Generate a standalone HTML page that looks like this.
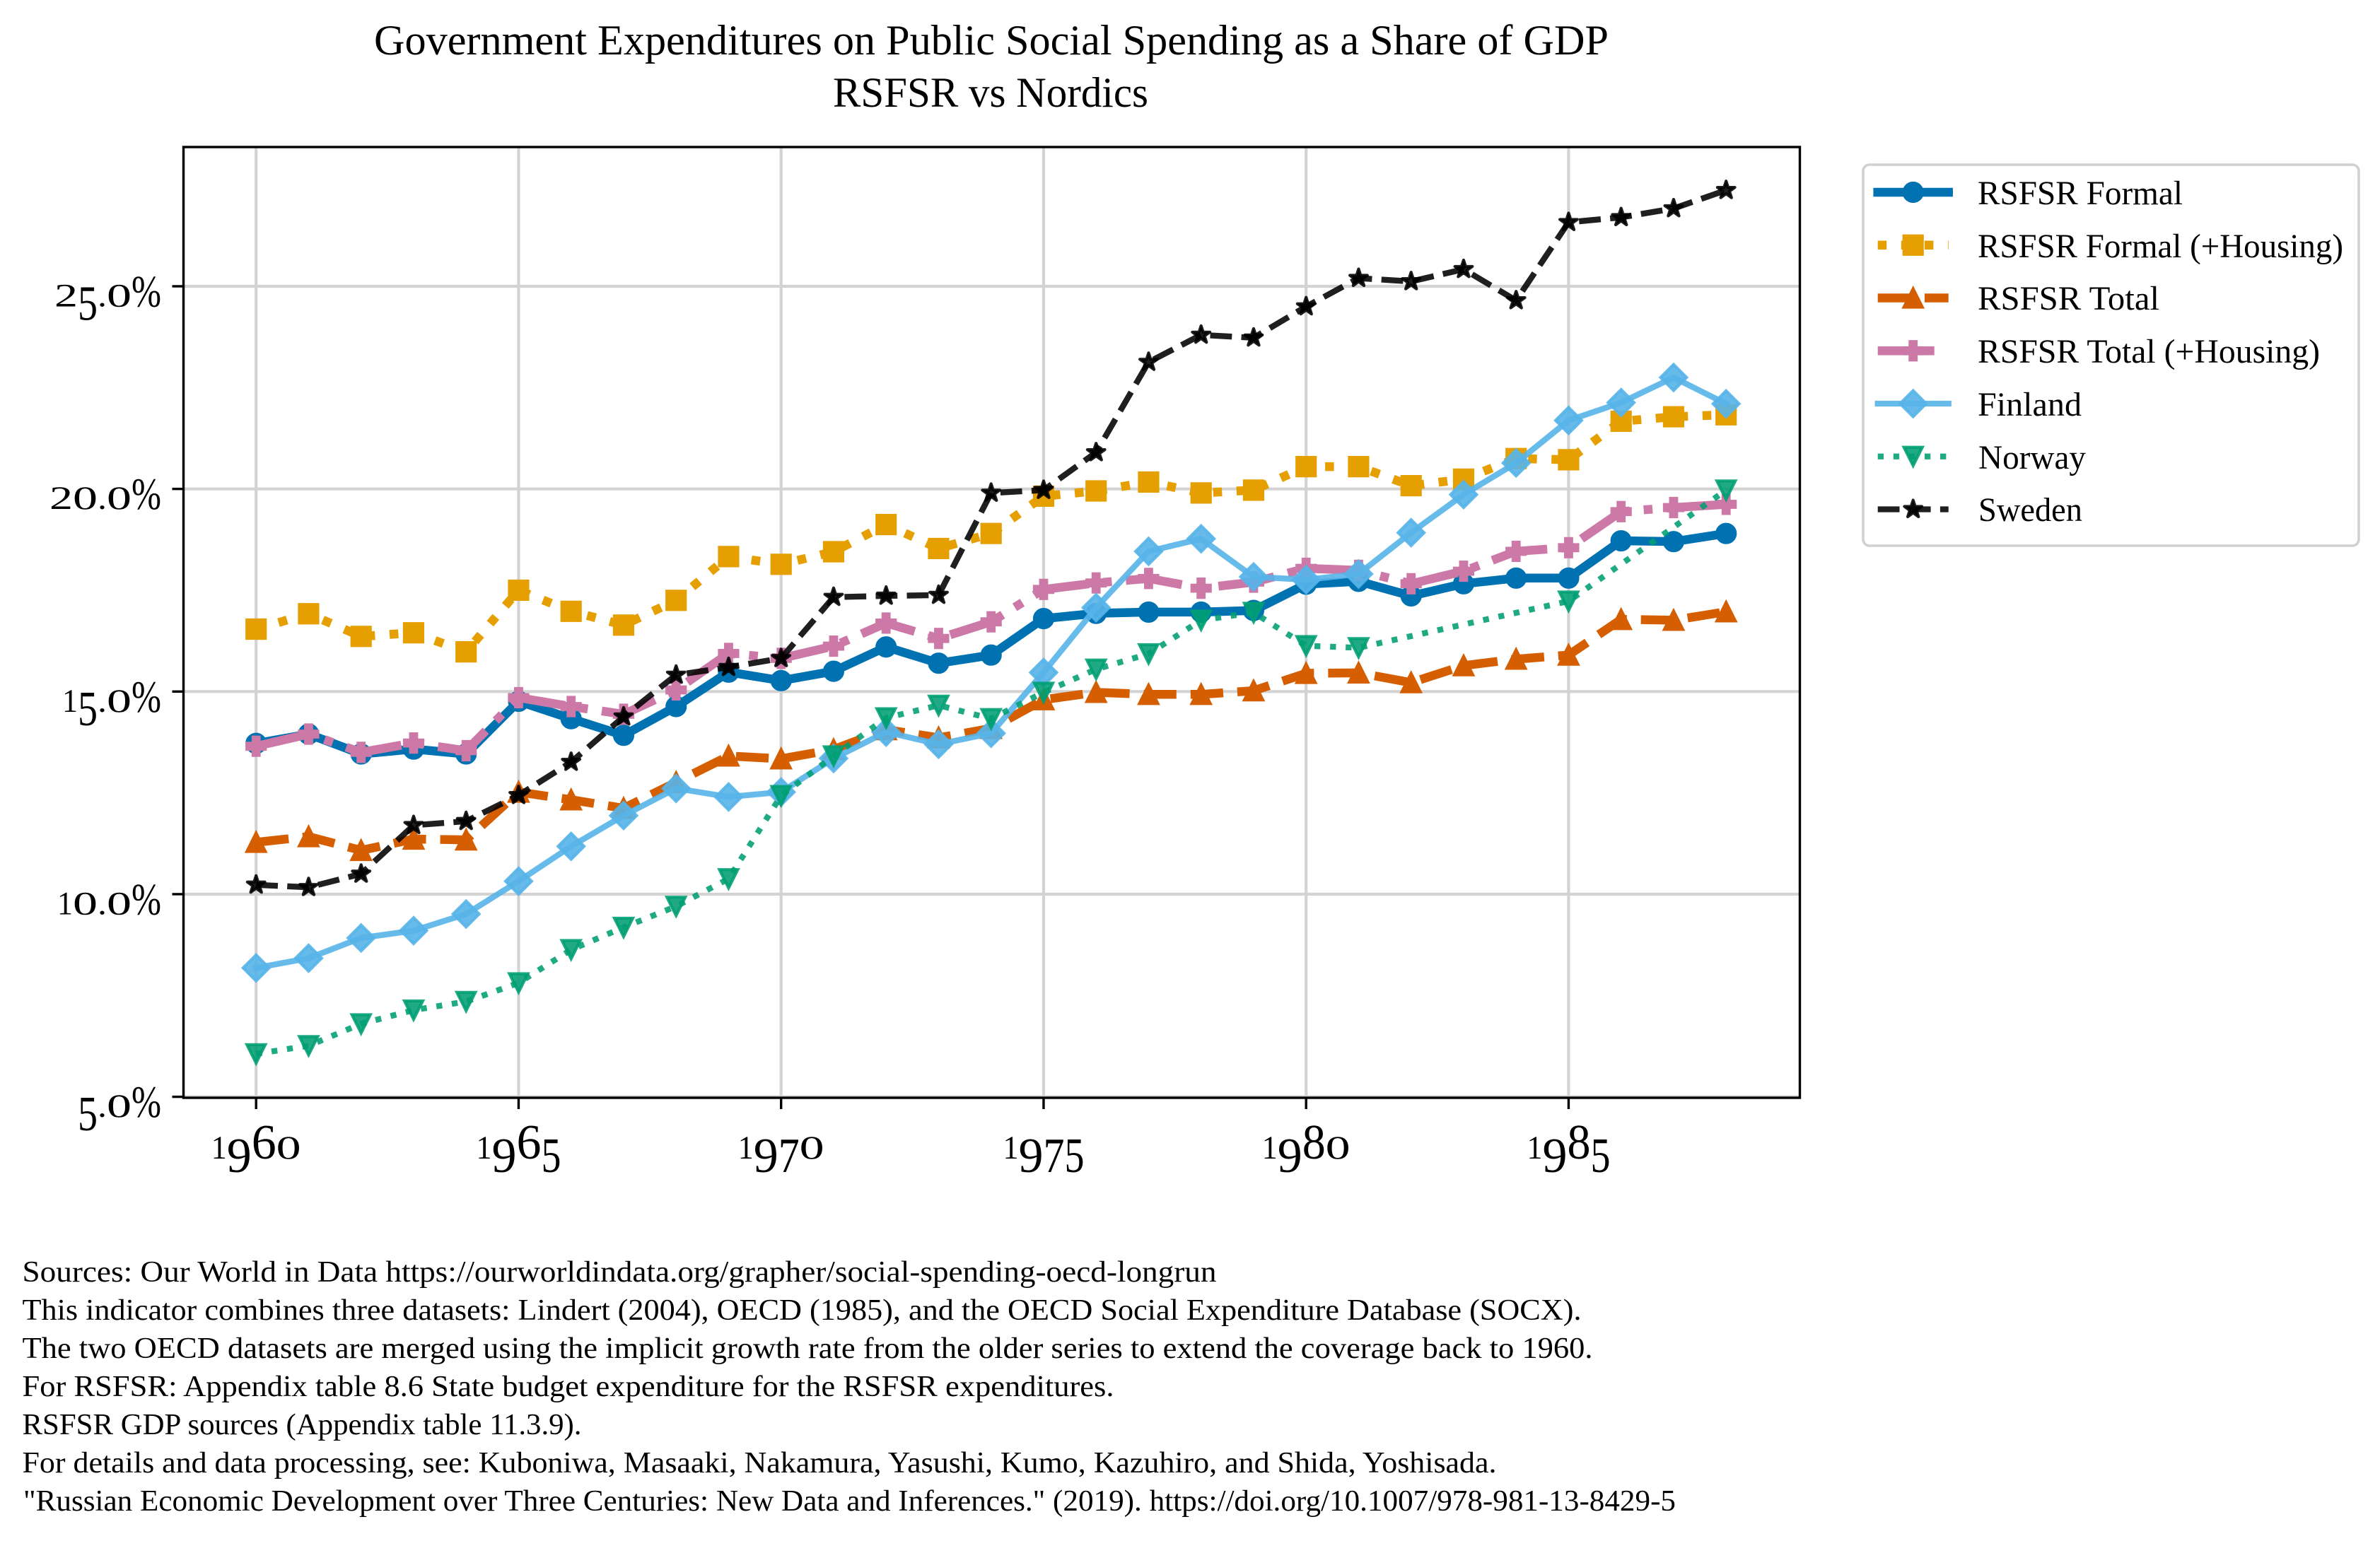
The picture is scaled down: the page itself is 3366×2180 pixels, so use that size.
<!DOCTYPE html>
<html lang="en">
<head>
<meta charset="utf-8">
<title>Government Expenditures on Public Social Spending as a Share of GDP</title>
<style>
  html, body { margin: 0; padding: 0; background: #fff; }
  svg { display: block; }
  text { font-family: "Liberation Serif", serif; fill: #000; }
</style>
</head>
<body>
<svg id="chart" xmlns="http://www.w3.org/2000/svg" width="3366" height="2180" viewBox="0 0 3366 2180">
  <rect x="0" y="0" width="3366" height="2180" fill="#fff"/>

  <text x="529" y="77" font-size="60" textLength="1746" lengthAdjust="spacingAndGlyphs">Government Expenditures on Public Social Spending as a Share of GDP</text>
  <text x="1178" y="151" font-size="60" textLength="446" lengthAdjust="spacingAndGlyphs">RSFSR vs Nordics</text>

  <g id="grid"></g>
  <defs><clipPath id="plot-clip"><rect x="259.5" y="208" width="2286" height="1345"/></clipPath></defs>
  <g id="series" clip-path="url(#plot-clip)"></g>
  <rect x="259.5" y="208" width="2286" height="1345" fill="none" stroke="#000" stroke-width="3.4"/>
  <g id="ticks"></g>
  <g id="tick-labels"></g>

  <g>
    <rect x="2635" y="233" width="701" height="539" rx="9" ry="9" fill="#fff" stroke="#d0d0d0" stroke-width="3.6"/>
    <g id="legend-handles"></g>
    <text x="2797" y="289" font-size="48" textLength="290" lengthAdjust="spacingAndGlyphs">RSFSR Formal</text>
    <text x="2797" y="364" font-size="48" textLength="517" lengthAdjust="spacingAndGlyphs">RSFSR Formal (+Housing)</text>
    <text x="2797" y="438" font-size="48" textLength="257" lengthAdjust="spacingAndGlyphs">RSFSR Total</text>
    <text x="2797" y="513" font-size="48" textLength="484" lengthAdjust="spacingAndGlyphs">RSFSR Total (+Housing)</text>
    <text x="2797" y="588" font-size="48" textLength="147" lengthAdjust="spacingAndGlyphs">Finland</text>
    <text x="2798" y="663" font-size="48" textLength="152" lengthAdjust="spacingAndGlyphs">Norway</text>
    <text x="2798" y="737" font-size="48" textLength="147" lengthAdjust="spacingAndGlyphs">Sweden</text>
  </g>

  <g>
    <text x="31.5" y="1813" font-size="42" textLength="1689" lengthAdjust="spacingAndGlyphs">Sources: Our World in Data https://ourworldindata.org/grapher/social-spending-oecd-longrun</text>
    <text x="31.5" y="1867" font-size="42" textLength="2205" lengthAdjust="spacingAndGlyphs">This indicator combines three datasets: Lindert (2004), OECD (1985), and the OECD Social Expenditure Database (SOCX).</text>
    <text x="31.5" y="1921" font-size="42" textLength="2221" lengthAdjust="spacingAndGlyphs">The two OECD datasets are merged using the implicit growth rate from the older series to extend the coverage back to 1960.</text>
    <text x="31.5" y="1975" font-size="42" textLength="1544" lengthAdjust="spacingAndGlyphs">For RSFSR: Appendix table 8.6 State budget expenditure for the RSFSR expenditures.</text>
    <text x="31.5" y="2029" font-size="42" textLength="791" lengthAdjust="spacingAndGlyphs">RSFSR GDP sources (Appendix table 11.3.9).</text>
    <text x="31.5" y="2083" font-size="42" textLength="2085" lengthAdjust="spacingAndGlyphs">For details and data processing, see: Kuboniwa, Masaaki, Nakamura, Yasushi, Kumo, Kazuhiro, and Shida, Yoshisada.</text>
    <text x="33" y="2137" font-size="42" textLength="2337" lengthAdjust="spacingAndGlyphs">"Russian Economic Development over Three Centuries: New Data and Inferences." (2019). https://doi.org/10.1007/978-981-13-8429-5</text>
  </g>
</svg>

<script>
const years = [1960,1961,1962,1963,1964,1965,1966,1967,1968,1969,1970,1971,1972,1973,1974,1975,1976,1977,1978,1979,1980,1981,1982,1983,1984,1985,1986,1987,1988];
const rsfsrFormal = [13.72,13.95,13.46,13.58,13.46,14.76,14.33,13.92,14.63,15.48,15.27,15.5,16.1,15.7,15.9,16.8,16.93,16.96,16.96,17.0,17.65,17.72,17.36,17.66,17.8,17.8,18.72,18.7,18.9];
const rsfsrFormalHousing = [16.54,16.92,16.36,16.45,15.98,17.5,16.98,16.64,17.25,18.33,18.14,18.45,19.12,18.53,18.9,19.82,19.95,20.17,19.9,19.97,20.55,20.55,20.08,20.24,20.75,20.72,21.67,21.78,21.83];
const rsfsrTotal = [11.28,11.42,11.08,11.36,11.34,12.52,12.33,12.12,12.76,13.41,13.34,13.57,14.06,13.86,14.09,14.8,14.98,14.93,14.93,15.02,15.45,15.46,15.22,15.64,15.8,15.9,16.78,16.76,16.97];
const rsfsrTotalHousing = [13.65,13.95,13.5,13.73,13.54,14.85,14.63,14.44,15.04,15.94,15.82,16.12,16.69,16.31,16.72,17.52,17.68,17.79,17.55,17.7,18.04,17.99,17.66,17.97,18.46,18.55,19.44,19.54,19.62];
const finland = [8.18,8.42,8.92,9.1,9.51,10.32,11.18,11.94,12.61,12.4,12.52,13.35,14.0,13.7,13.97,15.47,17.07,18.46,18.77,17.83,17.76,17.9,18.92,19.86,20.64,21.69,22.13,22.75,22.1];
const norway = [6.06,6.26,6.8,7.14,7.35,7.81,8.63,9.18,9.7,10.38,12.43,13.41,14.35,14.66,14.33,14.98,15.55,15.93,16.76,16.95,16.13,16.08,null,null,null,17.23,null,null,19.97];
const sweden = [10.23,10.17,10.5,11.7,11.8,12.44,13.26,14.38,15.41,15.6,15.82,17.33,17.36,17.38,19.9,19.97,20.9,23.13,23.8,23.73,24.5,25.2,25.12,25.42,24.65,26.58,26.7,26.92,27.37];

const xTickYears = [1960,1965,1970,1975,1980,1985];
const xTickLabels = ['1960','1965','1970','1975','1980','1985'];
const yTickValues = [5,10,15,20,25];
const yTickLabels = ['5.0%','10.0%','15.0%','20.0%','25.0%'];

const seriesNames = ['RSFSR Formal','RSFSR Formal (+Housing)','RSFSR Total','RSFSR Total (+Housing)','Finland','Norway','Sweden'];
const seriesValues = [rsfsrFormal,rsfsrFormalHousing,rsfsrTotal,rsfsrTotalHousing,finland,norway,sweden];
const seriesStyles = [
  {slug:'rsfsr-formal',color:'#0072B2',alpha:1,width:12.5,dash:'',cap:'square',marker:'circle'},
  {slug:'rsfsr-formal-housing',color:'#E69F00',alpha:1,width:12.5,dash:'12.5 20.6',cap:'butt',marker:'square'},
  {slug:'rsfsr-total',color:'#D55E00',alpha:1,width:12.5,dash:'46.25 20',cap:'butt',marker:'triangle-up'},
  {slug:'rsfsr-total-housing',color:'#CC79A7',alpha:1,width:12.5,dash:'80 20 12.5 20',cap:'butt',marker:'plus'},
  {slug:'finland',color:'#56B4E9',alpha:0.9,width:8.33,dash:'',cap:'square',marker:'diamond'},
  {slug:'norway',color:'#009E73',alpha:0.88,width:8.33,dash:'8.33 13.75',cap:'butt',marker:'triangle-down'},
  {slug:'sweden',color:'#000000',alpha:0.88,width:8.33,dash:'30.8 13.3',cap:'butt',marker:'star'}
];

const SVG_NS = 'http://www.w3.org/2000/svg';
const X_LEFT = 259.5, X_RIGHT = 2545.5, Y_TOP = 208, Y_BOTTOM = 1553;
const xAt = function (year) { return 362.2 + (year - 1960) * 74.25; };
const yAt = function (value) { return 1551.6 - (value - 5) * 57.33; };
const MS = 26, MEW = 4.17;

function markerPath(kind, cx, cy) {
  const h = MS / 2;
  function poly(points) {
    return 'M' + points.map(function (p) { return (cx + p[0]).toFixed(2) + ' ' + (cy + p[1]).toFixed(2); }).join('L') + 'Z';
  }
  if (kind === 'circle') {
    return 'M' + (cx - h) + ' ' + cy + 'a' + h + ' ' + h + ' 0 1 0 ' + MS + ' 0a' + h + ' ' + h + ' 0 1 0 ' + (-MS) + ' 0Z';
  }
  if (kind === 'square') return poly([[-h,-h],[h,-h],[h,h],[-h,h]]);
  if (kind === 'triangle-up') return poly([[0,-h],[h,h],[-h,h]]);
  if (kind === 'triangle-down') return poly([[0,h],[h,-h],[-h,-h]]);
  if (kind === 'diamond') { const d = h * Math.SQRT2; return poly([[0,-d],[d,0],[0,d],[-d,0]]); }
  if (kind === 'plus') {
    const a = MS / 6;
    return poly([[-a,-h],[a,-h],[a,-a],[h,-a],[h,a],[a,a],[a,h],[-a,h],[-a,a],[-h,a],[-h,-a],[-a,-a]]);
  }
  const pts = [];
  for (let i = 0; i < 10; i++) {
    const r = i % 2 === 0 ? h : h * 0.381966;
    const t = -Math.PI / 2 + i * Math.PI / 5;
    pts.push([r * Math.cos(t), r * Math.sin(t)]);
  }
  return poly(pts);
}

function drawLine(parent, d, st) {
  const el = document.createElementNS(SVG_NS, 'path');
  
  
  el.setAttribute('d', d);
  el.setAttribute('fill', 'none');
  el.setAttribute('stroke', st.color);
  el.setAttribute('stroke-opacity', st.alpha);
  el.setAttribute('stroke-width', st.width);
  el.setAttribute('stroke-linejoin', 'round');
  el.setAttribute('stroke-linecap', st.cap);
  if (st.dash) el.setAttribute('stroke-dasharray', st.dash);
  parent.appendChild(el);
}

function drawMarker(parent, st, cx, cy) {
  const el = document.createElementNS(SVG_NS, 'path');
  
  
  el.setAttribute('d', markerPath(st.marker, cx, cy));
  el.setAttribute('fill', st.color);
  el.setAttribute('fill-opacity', st.alpha);
  el.setAttribute('stroke', st.color);
  el.setAttribute('stroke-opacity', st.alpha);
  el.setAttribute('stroke-width', MEW);
  el.setAttribute('stroke-linejoin', (st.marker === 'star' || st.marker === 'circle') ? 'round' : 'miter');
  parent.appendChild(el);
}

function drawRule(parent, name, x1, y1, x2, y2, color, width) {
  const el = document.createElementNS(SVG_NS, 'line');
  
  
  el.setAttribute('x1', x1);
  el.setAttribute('y1', y1);
  el.setAttribute('x2', x2);
  el.setAttribute('y2', y2);
  el.setAttribute('stroke', color);
  el.setAttribute('stroke-width', width);
  parent.appendChild(el);
}

/* Old-style figure look: per-character advance, size and baseline offset, still plain text. */
const glyphAdvance = {'0':35,'1':22,'2':33,'3':30,'4':33,'5':28,'6':35,'7':30,'8':33,'9':35,'.':13,'%':42};
function labelWidth(label) {
  let w = 0;
  for (const ch of label) w += glyphAdvance[ch];
  return w;
}
function drawTickLabel(parent, name, label, left, baseline) {
  const el = document.createElementNS(SVG_NS, 'text');
  
  
  let x = left;
  for (const ch of label) {
    const span = document.createElementNS(SVG_NS, 'tspan');
    let size = 70, drop = 0;
    if ('012.'.indexOf(ch) >= 0) size = 47;
    if ('34579'.indexOf(ch) >= 0) drop = 19;
    if (ch === '%') size = 64;
    span.setAttribute('font-size', size);
    span.setAttribute('x', x);
    span.setAttribute('y', baseline + drop);
    span.setAttribute('textLength', glyphAdvance[ch]);
    span.setAttribute('lengthAdjust', 'spacingAndGlyphs');
    span.textContent = ch;
    el.appendChild(span);
    x += glyphAdvance[ch];
  }
  parent.appendChild(el);
}

const gridLayer = document.getElementById('grid');
xTickYears.forEach(function (yr) {
  drawRule(gridLayer, 'x-grid-line', xAt(yr), Y_TOP, xAt(yr), Y_BOTTOM, '#d3d3d3', 4.17);
});
yTickValues.forEach(function (v) {
  drawRule(gridLayer, 'y-grid-line', X_LEFT, yAt(v), X_RIGHT, yAt(v), '#d3d3d3', 4.17);
});

const tickLayer = document.getElementById('ticks');
xTickYears.forEach(function (yr) {
  drawRule(tickLayer, 'x-tick', xAt(yr), Y_BOTTOM, xAt(yr), Y_BOTTOM + 16, '#000', 3.4);
});
yTickValues.forEach(function (v) {
  drawRule(tickLayer, 'y-tick', X_LEFT - 16, yAt(v), X_LEFT, yAt(v), '#000', 3.4);
});

const labelLayer = document.getElementById('tick-labels');
xTickLabels.forEach(function (label, i) {
  drawTickLabel(labelLayer, 'x-tick-label', label, xAt(xTickYears[i]) - labelWidth(label) / 2, 1639);
});
yTickLabels.forEach(function (label, i) {
  drawTickLabel(labelLayer, 'y-tick-label', label, 228 - labelWidth(label), yAt(yTickValues[i]) + 28.5);
});

const seriesLayer = document.getElementById('series');
seriesValues.forEach(function (values, s) {
  const st = seriesStyles[s];
  const group = document.createElementNS(SVG_NS, 'g');
  
  
  const pts = [];
  values.forEach(function (v, i) {
    if (v !== null) pts.push([xAt(years[i]), yAt(v)]);
  });
  const d = 'M' + pts.map(function (p) { return p[0].toFixed(2) + ' ' + p[1].toFixed(2); }).join('L');
  drawLine(group, d, st);
  pts.forEach(function (p) { drawMarker(group, st, p[0], p[1]); });
  seriesLayer.appendChild(group);
});

const legendLayer = document.getElementById('legend-handles');
seriesNames.forEach(function (name, s) {
  const st = seriesStyles[s];
  const rowY = 272 + s * 74.75;
  const group = document.createElementNS(SVG_NS, 'g');
  
  
  drawLine(group, 'M2655.7 ' + rowY + 'L2755.7 ' + rowY, st);
  drawMarker(group, st, 2705.7, rowY);
  legendLayer.appendChild(group);
});
</script>
</body>
</html>
